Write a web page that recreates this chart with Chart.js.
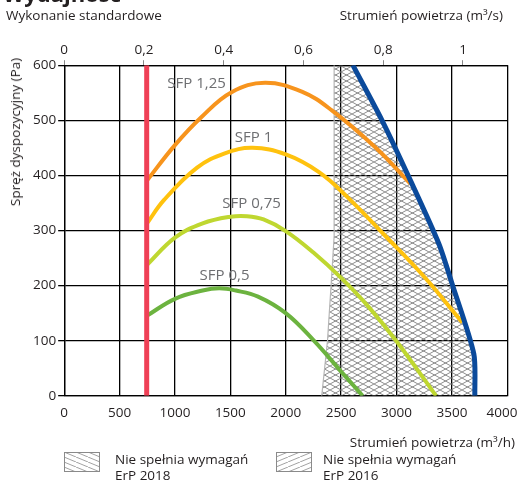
<!DOCTYPE html>
<html lang="pl">
<head>
<meta charset="utf-8">
<title>Wydajność</title>
<script src="https://cdn.jsdelivr.net/npm/chart.js@4.4.1/dist/chart.umd.min.js"></script>
<style>
    body { margin: 0; background: #fff; font-family: 'Open Sans', sans-serif; color: #231f20; }
    #page { position: relative; width: 517px; height: 482px; overflow: hidden; }
    #wrap { position: absolute; left: 0; top: 0; width: 537px; height: 482px; }
    .txt { position: absolute; white-space: nowrap; font-size: 13.5px; line-height: 18px; }
    #title { left: 3px; top: -22px; font-size: 22px; font-weight: bold; line-height: 30px; }
    #subtitle { left: 6px; top: 6px; }
    #top-axis-title { right: 14px; top: 6px; }
    #x-axis-title { right: 2px; top: 433px; }
    #y-axis-title { left: 15px; top: 132px; transform: translate(-50%, -50%) rotate(-90deg); }
    .swatch { position: absolute; top: 452px; width: 36px; height: 20px; }
    .legend-text { position: absolute; top: 451px; font-size: 13.5px; line-height: 16px; }
</style>
</head>
<body>
<div id="page">
    <div id="wrap"><canvas id="perfChart" width="537" height="482"></canvas></div>
    <div class="txt" id="title">Wydajność</div>
    <div class="txt" id="subtitle">Wykonanie standardowe</div>
    <div class="txt" id="top-axis-title">Strumień powietrza (m³/s)</div>
    <div class="txt" id="x-axis-title">Strumień powietrza (m³/h)</div>
    <div class="txt" id="y-axis-title">Spręż dyspozycyjny (Pa)</div>
    <canvas class="swatch" id="swatch-2018" width="36" height="20" style="left:64px"></canvas>
    <div class="legend-text" style="left:115px">Nie spełnia wymagań<br>ErP 2018</div>
    <canvas class="swatch" id="swatch-2016" width="36" height="20" style="left:276px"></canvas>
    <div class="legend-text" style="left:323px">Nie spełnia wymagań<br>ErP 2016</div>
</div>
<script>
// Strumień powietrza (m3/h) / spręż (Pa)
const flowTicks = [0, 500, 1000, 1500, 2000, 2500, 3000, 3500, 4000];
const pressureTicks = [0, 100, 200, 300, 400, 500, 600];
const flowTicksM3s = [0, 0.2, 0.4, 0.6, 0.8, 1];

const minFlowLine = [[745, 0], [745, 600]];
const maxFlowLine = [[2606, 600], [2869, 500], [3125, 391], [3382, 276], [3502, 203], [3698, 76], [3707, 0]];
const sfp125 = [[745, 390], [1000, 455], [1240, 506], [1511, 551], [1813, 568], [2145, 552], [2416, 518], [2808, 451], [3125, 385]];
const sfp100 = [[745, 312], [900, 355], [1200, 414], [1450, 440], [1700, 450], [2000, 438], [2300, 406], [2550, 362], [2900, 290], [3250, 216], [3593, 133]];
const sfp075 = [[745, 237], [1000, 287], [1250, 313], [1500, 325], [1650, 326], [1800, 320], [2000, 299], [2250, 260], [2500, 214], [2750, 161], [3000, 99], [3357, 0]];
const sfp050 = [[745, 145], [1000, 176], [1250, 191], [1400, 195], [1550, 191], [1750, 180], [2000, 150], [2250, 101], [2500, 44], [2694, 0]];
const erpBoundary = [[2325, 0], [2377, 100], [2416, 221], [2437, 290], [2437, 600]];

const sfpLabels = [
    { text: 'SFP 1,25', x: 1195, y: 567 },
    { text: 'SFP 1', x: 1710, y: 469 },
    { text: 'SFP 0,75', x: 1692, y: 349 },
    { text: 'SFP 0,5', x: 1448, y: 218 }
];

const toPoints = (arr) => arr.map(([x, y]) => ({ x, y }));

// Zakreskowany obszar: od granicy ErP do linii maksymalnego przepływu
const erpArea = toPoints([...erpBoundary, ...maxFlowLine]);

// Wzór kreskowania (jeden kierunek na wzór, oba razem dają kratkę)
const makeHatch = (dir, w, h, color) => {
    const c = document.createElement('canvas');
    c.width = w;
    c.height = h;
    const ctx = c.getContext('2d');
    ctx.strokeStyle = color;
    ctx.lineWidth = 0.8;
    ctx.beginPath();
    for (let k = -1; k <= 1; k++) {
        if (dir === '/') {
            ctx.moveTo(k * w, h);
            ctx.lineTo(w + k * w, 0);
        } else {
            ctx.moveTo(k * w, 0);
            ctx.lineTo(w + k * w, h);
        }
    }
    ctx.stroke();
    return ctx.createPattern(c, 'repeat');
};

const hatchBack = makeHatch('\\', 11, 6, '#6e6e6e');
const hatchFwd = makeHatch('/', 11, 6, '#6e6e6e');

// Legenda
const drawSwatch = (id, dir) => {
    const ctx = document.getElementById(id).getContext('2d');
    ctx.fillStyle = makeHatch(dir, 12, 5, '#8a8a8a');
    ctx.fillRect(0, 0, 36, 20);
    ctx.strokeStyle = '#8a8a8a';
    ctx.lineWidth = 1;
    ctx.strokeRect(0.5, 0.5, 35, 19);
};
drawSwatch('swatch-2018', '\\');
drawSwatch('swatch-2016', '/');

const fmtComma = (v) => String(Math.round(v * 10) / 10).replace('.', ',');
// ostatnia etykieta lekko w lewo, żeby zmieściła się w kadrze
const fmtFlow = (v) => (v === 4000 ? '4000   ' : String(v));

const sfpLabelPlugin = {
    id: 'sfpLabels',
    afterDatasetsDraw(chart) {
        const { ctx, scales } = chart;
        ctx.save();
        ctx.font = "15px 'Open Sans', sans-serif";
        ctx.fillStyle = '#6d6e71';
        ctx.textAlign = 'center';
        ctx.textBaseline = 'middle';
        sfpLabels.forEach(l => {
            ctx.fillText(l.text, scales.x.getPixelForValue(l.x), scales.y.getPixelForValue(l.y));
        });
        ctx.restore();
    }
};

const curve = (data, color, order) => ({
    data: toPoints(data),
    borderColor: color,
    borderWidth: 4,
    pointRadius: 0,
    tension: 0.4,
    fill: false,
    order
});

const tickFont = { family: "'Open Sans', sans-serif", size: 13.5 };

new Chart(document.getElementById('perfChart'), {
    type: 'line',
    data: {
        datasets: [
            { data: toPoints(maxFlowLine), borderColor: '#0b4a9b', borderWidth: 5, pointRadius: 0, tension: 0.25, fill: false, order: 0 },
            { data: toPoints(minFlowLine), borderColor: '#ef4056', borderWidth: 5, pointRadius: 0, fill: false, order: 1 },
            curve(sfp125, '#f7941d', 2),
            curve(sfp100, '#ffc20e', 3),
            curve(sfp075, '#bfd730', 4),
            curve(sfp050, '#6cb33f', 5),
            { data: toPoints(erpBoundary), borderColor: '#b5b5b5', borderWidth: 1.2, pointRadius: 0, fill: false, order: 6 },
            { data: erpArea, borderWidth: 0, borderColor: 'rgba(0,0,0,0)', backgroundColor: hatchBack, pointRadius: 0, tension: 0, fill: 'shape', order: 7 },
            { data: erpArea, borderWidth: 0, borderColor: 'rgba(0,0,0,0)', backgroundColor: hatchFwd, pointRadius: 0, tension: 0, fill: 'shape', order: 8 }
        ]
    },
    options: {
        responsive: false,
        animation: false,
        layout: { padding: { top: 40, left: 31, right: 0, bottom: 52 } },
        plugins: { legend: { display: false }, tooltip: { enabled: false } },
        scales: {
            x: {
                type: 'linear',
                position: 'bottom',
                min: 0,
                max: 4000,
                afterBuildTicks: (axis) => { axis.ticks = flowTicks.map(v => ({ value: v })); },
                grid: { color: '#000', lineWidth: 1.3, drawTicks: false },
                border: { color: '#000', width: 1.3 },
                ticks: { color: '#231f20', font: tickFont, padding: 9, callback: fmtFlow }
            },
            x2: {
                type: 'linear',
                position: 'top',
                min: 0,
                max: 4000 / 3600,
                afterBuildTicks: (axis) => { axis.ticks = flowTicksM3s.map(v => ({ value: v })); },
                grid: { drawOnChartArea: false, color: '#888', tickLength: 5 },
                border: { color: '#000', width: 1.3 },
                ticks: { color: '#231f20', font: tickFont, padding: 2, callback: fmtComma }
            },
            y: {
                type: 'linear',
                min: 0,
                max: 600,
                afterBuildTicks: (axis) => { axis.ticks = pressureTicks.map(v => ({ value: v })); },
                grid: { color: '#000', lineWidth: 1.3, tickLength: 6 },
                border: { color: '#000', width: 1.3 },
                ticks: { color: '#231f20', font: tickFont, padding: 2 }
            }
        }
    },
    plugins: [sfpLabelPlugin]
});
</script>
</body>
</html>
